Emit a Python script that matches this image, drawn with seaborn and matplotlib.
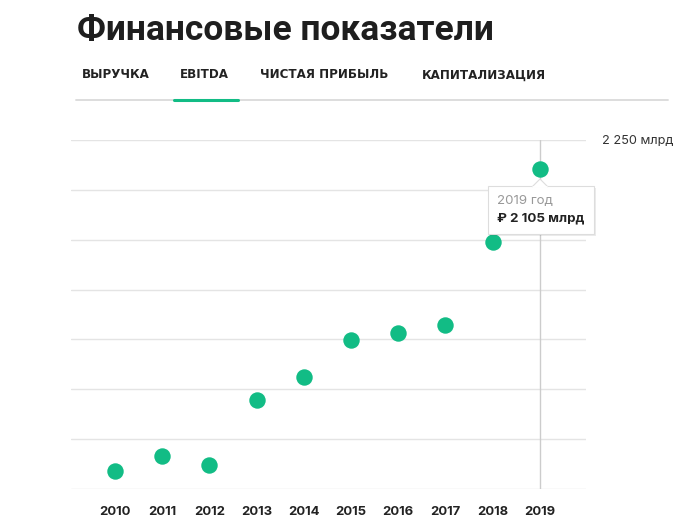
import matplotlib
matplotlib.use('Agg')
import matplotlib.pyplot as plt
import seaborn as sns
import pandas as pd
from matplotlib.patches import Rectangle, Polygon
from matplotlib.lines import Line2D

# ---- data ----
years = ['2010', '2011', '2012', '2013', '2014', '2015', '2016', '2017', '2018', '2019']
ebitda = [588, 663, 618, 948, 1060, 1245, 1280, 1324, 1738, 2105]
y_ticks = [500, 750, 1000, 1250, 1500, 1750, 2000, 2250]
y_tick_labels = ['', '', '', '', '', '', '', '2 250 млрд']
title = 'Финансовые показатели'
tabs = ['ВЫРУЧКА', 'EBITDA', 'ЧИСТАЯ ПРИБЫЛЬ', 'КАПИТАЛИЗАЦИЯ']
tooltip_year = '2019 год'
tooltip_value = '₽ 2 105 млрд'
highlight_year = '2019'

W, H = 695, 518
sns.set_style('white')
plt.rcParams['font.family'] = ['Inter', 'DejaVu Sans']

fig = plt.figure(figsize=(W / 100, H / 100), dpi=100)


def fx(px):
    return px / W


def fy(py):
    return 1 - py / H


ax = fig.add_axes([fx(71), fy(489), fx(586) - fx(71), fy(140) - fy(489)])
df = pd.DataFrame({'year': years, 'ebitda': ebitda})
sns.scatterplot(data=df, x='year', y='ebitda', ax=ax, s=140, color='#12BC85',
                linewidth=0, zorder=5, clip_on=False)
ax.set_xlim(-0.93, 9.98)
ax.set_ylim(y_ticks[0], y_ticks[-1])
ax.set_yticks(y_ticks)
ax.set_yticklabels(y_tick_labels)
ax.yaxis.tick_right()
ax.grid(axis='y', color='#e4e4e4', lw=1)
ax.grid(axis='x', visible=False)
for s in ax.spines.values():
    s.set_visible(False)
ax.tick_params(axis='both', length=0)
ax.tick_params(axis='y', pad=11.5, labelsize=9.2, labelcolor='#333333')
ax.tick_params(axis='x', pad=12, labelsize=9.4, labelcolor='#222222')
for t in ax.get_xticklabels():
    t.set_fontweight('bold')
ax.set_xlabel('')
ax.set_ylabel('')
ax.axvline(years.index(highlight_year), color='#cccccc', lw=1, zorder=1)

# ---- title & tabs ----
fig.text(fx(77), fy(40), title, fontsize=25.5, fontweight='bold', color='#1e1e1e', va='baseline',
         family=['Roboto', 'DejaVu Sans'])
tab_x = [82, 180, 260, 422]
for tx, lab in zip(tab_x, tabs):
    fig.text(fx(tx), fy(75), lab, fontsize=8.6, fontweight='bold', color='#222222', va='center',
             family=['DejaVu Sans'])
fig.add_artist(Line2D([fx(76), fx(668)], [fy(100), fy(100)], color='#dddddd', lw=1.4))
fig.add_artist(Line2D([fx(174), fx(238)], [fy(99.5), fy(99.5)], color='#12BC85', lw=2.2))

# ---- tooltip ----
bx0, by0, bx1, by1 = 488, 186.5, 594, 233.5
fig.add_artist(Rectangle((fx(bx0 + 1.5), fy(by1 + 2)), fx(bx1 - bx0), fy(by0) - fy(by1),
                         facecolor='#000000', alpha=0.08, edgecolor='none', zorder=8))
fig.add_artist(Rectangle((fx(bx0), fy(by1)), fx(bx1 - bx0), fy(by0) - fy(by1),
                         facecolor='white', edgecolor='#dddddd', lw=0.8, zorder=9))
fig.add_artist(Polygon([(fx(532), fy(187)), (fx(540), fy(179)), (fx(548), fy(187))],
                       closed=False, facecolor='white', edgecolor='#dddddd', lw=0.8, zorder=10))
fig.add_artist(Line2D([fx(533), fx(547)], [fy(186.9), fy(186.9)], color='white', lw=1.2, zorder=11))
fig.text(fx(497), fy(201.5), tooltip_year, fontsize=9.6, color='#999999', va='center', zorder=12)
fig.text(fx(497), fy(218.5), tooltip_value, fontsize=9.6, fontweight='bold', color='#222222',
         va='center', zorder=12)

fig.savefig('out.png', dpi=100)
